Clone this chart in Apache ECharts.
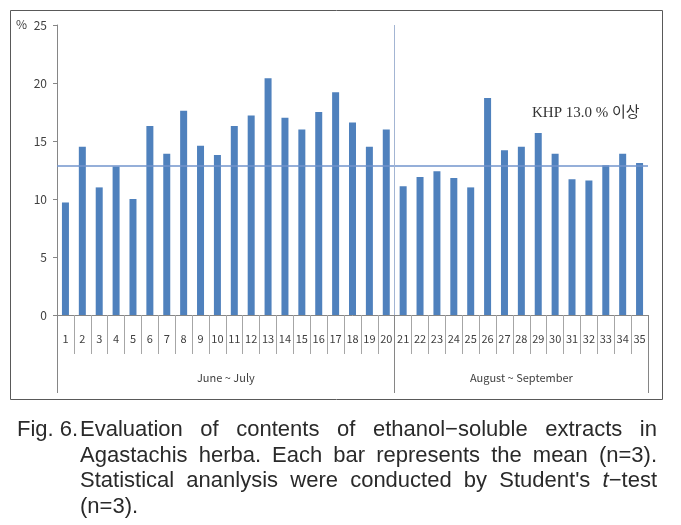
<!DOCTYPE html>
<html>
<head>
<meta charset="utf-8">
<script src="https://cdn.jsdelivr.net/npm/echarts@6/dist/echarts.min.js"></script>
<style>
  html, body { margin: 0; padding: 0; background: #fff; }
  #wrap { position: relative; width: 681px; height: 525px; }
  #chart { position: absolute; left: 0; top: 0; width: 681px; height: 525px; }
  #caption {
    position: absolute; left: 17px; top: 416px; width: 640px;
    font-family: "Liberation Sans Narrow", "Liberation Sans", Arial, sans-serif; font-size: 22px;
    color: #2a2a2a; line-height: 25.5px;
  }
  #caption .row { display: flex; }
  #caption .fig { width: 63px; flex: none; }
  #caption .txt { flex: 1; }
  #caption .j { text-align: justify; text-align-last: justify; }
</style>
</head>
<body>
<div id="wrap">
  <div id="chart"></div>
  <div id="caption">
    <div class="row"><span class="fig">Fig. 6.</span><span class="txt j">Evaluation of contents of ethanol−soluble extracts in</span></div>
    <div class="row"><span class="fig"></span><span class="txt j">Agastachis herba. Each bar represents the mean (n=3).</span></div>
    <div class="row"><span class="fig"></span><span class="txt j">Statistical ananlysis were conducted by Student's <i>t</i>−test</span></div>
    <div class="row"><span class="fig"></span><span class="txt">(n=3).</span></div>
  </div>
</div>
<script>
// sample numbers 1..35
const categories = Array.from({ length: 35 }, (_, i) => String(i + 1))

// ethanol-soluble extract content (%)
const values = [
  9.7, 14.5, 11.0, 12.8, 10.0, 16.3, 13.9, 17.6, 14.6, 13.8,
  16.3, 17.2, 20.4, 17.0, 16.0, 17.5, 19.2, 16.6, 14.5, 16.0,
  11.1, 11.9, 12.4, 11.8, 11.0, 18.7, 14.2, 14.5, 15.7, 13.9,
  11.7, 11.6, 12.9, 13.9, 13.1,
]

// collection periods: [label, start, end] on the sample scale
const groups = [
  ['June ~ July', 0, 20],
  ['August ~ September', 20, 35],
]

const khpLimit = 12.85
const yTicks = [0, 5, 10, 15, 20, 25]

const labelFont = '"Noto Sans CJK KR", "Noto Sans", sans-serif'
const grey = '#868686'

const chart = echarts.init(document.getElementById('chart'))

const groupEdges = [0].concat(groups.map((g) => g[2]))
const groupCenters = groups.map((g) => (g[1] + g[2]) / 2)

chart.setOption({
  animation: false,
  grid: { left: 57, right: 33, top: 25, bottom: 210 },
  xAxis: [
    {
      type: 'category',
      data: categories,
      boundaryGap: true,
      axisLine: { lineStyle: { color: grey, width: 1 } },
      axisTick: { show: true, interval: 0, length: 39, lineStyle: { color: '#a6a6a6' } },
      axisLabel: { interval: 0, margin: 18, color: '#404040', fontSize: 11, fontFamily: labelFont },
    },
    {
      type: 'value',
      min: 0,
      max: 35,
      position: 'bottom',
      axisLine: { show: false },
      splitLine: { show: false },
      axisTick: { show: true, customValues: groupEdges, length: 78, lineStyle: { color: grey } },
      axisLabel: {
        customValues: groupCenters,
        margin: 57,
        color: '#404040',
        fontSize: 11,
        fontFamily: labelFont,
        formatter: (v) => {
          const g = groups.find((x) => (x[1] + x[2]) / 2 === v)
          return g ? g[0] : ''
        },
      },
    },
  ],
  yAxis: {
    type: 'value',
    min: 0,
    max: 25,
    interval: 5,
    axisLine: { show: true, lineStyle: { color: grey } },
    axisTick: { show: true, length: 4, lineStyle: { color: grey } },
    splitLine: { show: false },
    axisLabel: {
      margin: 10,
      color: '#404040',
      fontSize: 12,
      fontFamily: labelFont,
      customValues: yTicks,
    },
  },
  series: [
    {
      type: 'bar',
      data: values,
      barWidth: 7,
      itemStyle: { color: '#4F81BD' },
      markLine: {
        silent: true,
        symbol: 'none',
        label: { show: false },
        lineStyle: { color: '#7294cc', width: 1.5, type: 'solid' },
        data: [{ yAxis: khpLimit }],
      },
    },
    {
      type: 'line',
      xAxisIndex: 1,
      data: [],
      markLine: {
        silent: true,
        symbol: 'none',
        label: { show: false },
        lineStyle: { color: '#a3b5d3', width: 1, type: 'solid' },
        data: [{ xAxis: groups[0][2] }],
      },
    },
  ],
  graphic: [
    {
      type: 'rect',
      shape: { x: 10.5, y: 10.5, width: 652, height: 389 },
      style: { fill: 'none', stroke: '#595959', lineWidth: 1 },
      silent: true,
    },
    {
      type: 'text',
      left: 16,
      top: 18,
      style: { text: '%', fill: '#404040', font: '12px ' + labelFont },
    },
    {
      type: 'text',
      left: 532,
      top: 106,
      style: {
        text: 'KHP 13.0 % 이상',
        fill: '#333',
        font: '15px "Liberation Serif", "Noto Sans CJK KR", serif',
      },
    },
  ],
})
</script>
</body>
</html>
